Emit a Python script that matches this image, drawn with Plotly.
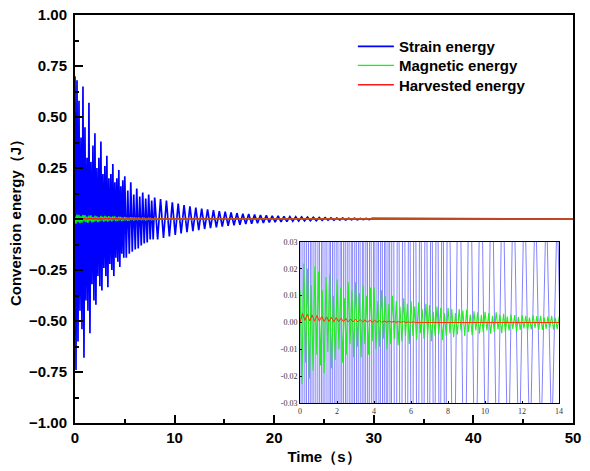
import numpy as np
import plotly.graph_objects as go

# ---------------- data ----------------
# Strain energy: dense early part (step 0.1 s), medium part (step 0.15 s), regular decay (step 0.295 s)
strain_dense_dt = 0.1
strain_dense = [0.70, -0.74, 0.68, -0.60, 0.58, -0.45, 0.40, -0.54, 0.65, -0.68,
                0.45, -0.40, 0.30, -0.45, 0.57, -0.56, 0.28, -0.32, 0.36, -0.40,
                0.42, -0.42, 0.25, -0.28, 0.30, -0.33, 0.38, -0.35, 0.22, -0.24,
                0.26, -0.28, 0.31, -0.335, 0.20, -0.22, 0.22, -0.25, 0.27, -0.28,
                0.18, -0.19, 0.20, -0.21, 0.24, -0.235, 0.16, -0.17, 0.19, -0.19]
strain_mid_t0 = 5.0
strain_mid_dt = 0.15
strain_mid = [0.21, -0.19, 0.14, -0.17, 0.18, -0.16, 0.12, -0.15, 0.15, -0.145,
              0.11, -0.13, 0.13, -0.12, 0.10, -0.115, 0.12, -0.10, 0.09, -0.10]
strain_tail_t0 = 8.0
strain_tail_dt = 0.295
strain_tail = [0.105, -0.100, 0.098, -0.093, 0.090, -0.086, 0.082, -0.078, 0.075, -0.071,
               0.068, -0.065, 0.062, -0.059, 0.056, -0.054, 0.051, -0.049, 0.047, -0.045,
               0.043, -0.041, 0.039, -0.037, 0.036, -0.034, 0.032, -0.031, 0.029, -0.028,
               0.026, -0.025, 0.024, -0.023, 0.022, -0.021, 0.020, -0.019, 0.018, -0.017,
               0.016, -0.015, 0.015, -0.014, 0.013, -0.013, 0.012, -0.011, 0.011, -0.010,
               0.010, -0.009, 0.009, -0.008, 0.008, -0.008, 0.007, -0.007, 0.007, -0.006,
               0.006, -0.006, 0.005, -0.005, 0.005, -0.005, 0.004, -0.004, 0.004, -0.004,
               0.003, -0.003, 0.003, -0.003, 0.003]
strain_end_t = [50.0]
strain_end_v = [0.0]

# Magnetic energy (sample step 0.1 s, 0-14 s)
magnetic_dt = 0.1
magnetic = [0.012, -0.023, 0.022, -0.015, 0.020, -0.021, 0.014, -0.018, 0.021, -0.012,
            0.019, -0.016, 0.012, -0.019, 0.017, -0.011, 0.018, -0.017, 0.010, -0.014,
            0.016, -0.010, 0.013, -0.015, 0.009, -0.012, 0.015, -0.008, 0.012, -0.013,
            0.015, -0.009, 0.011, -0.013, 0.014, -0.008, 0.010, -0.012, 0.013, -0.007,
            0.013, -0.010, 0.008, -0.009, 0.012, -0.006, 0.010, -0.010, 0.007, -0.008,
            0.010, -0.006, 0.008, -0.0085, 0.006, -0.007, 0.009, -0.005, 0.007, -0.008,
            0.008, -0.005, 0.006, -0.0065, 0.0075, -0.004, 0.005, -0.006, 0.007, -0.0045,
            0.0065, -0.007, 0.004, -0.005, 0.006, -0.0045, 0.0055, -0.0065, 0.0035, -0.005,
            0.0055, -0.004, 0.005, -0.0055, 0.0035, -0.0045, 0.005, -0.003, 0.0045, -0.005,
            0.0047, -0.0035, 0.003, -0.0047, 0.0042, -0.003, 0.0038, -0.0042, 0.0028, -0.0036,
            0.004, -0.003, 0.0035, -0.0042, 0.0025, -0.0035, 0.0038, -0.0026, 0.003, -0.004,
            0.0032, -0.0036, 0.0022, -0.003, 0.003, -0.0024, 0.0028, -0.0034, 0.002, -0.0028,
            0.0028, -0.0022, 0.0025, -0.003, 0.0018, -0.0026, 0.0027, -0.002, 0.0024, -0.0028,
            0.0025, -0.0028, 0.0018, -0.0024, 0.0023, -0.0019, 0.0025, -0.0027, 0.0017, -0.0025,
            0.002]
magnetic_end_t = [50.0]
magnetic_end_v = [0.0]

# Harvested energy (sample step 0.13 s)
harvest_dt = 0.13
harvested = [0.0, 0.0034, 0.0008, 0.0031, 0.0006, 0.0028, 0.0005, 0.0026, 0.0005, 0.0023,
             0.0004, 0.0021, 0.0004, 0.0019, 0.0003, 0.0018, 0.0003, 0.0016, 0.0003, 0.0015,
             0.0002, 0.0013, 0.0002, 0.0012, 0.0002, 0.0011, 0.0002, 0.0010, 0.0001, 0.0009,
             0.0001, 0.0008, 0.0001, 0.0007, 0.0001, 0.0006, 0.0001, 0.0005, 0.0001, 0.0004,
             0.0001, 0.0003, 0.0001, 0.0003, 0.0, 0.0002, 0.0, 0.0002, 0.0, 0.0001, 0.0]
harvest_end_t = [50.0]
harvest_end_v = [0.0]

main_xticks = [0, 10, 20, 30, 40, 50]
main_yticks = [-1.0, -0.75, -0.5, -0.25, 0.0, 0.25, 0.5, 0.75, 1.0]
inset_xticks = [0, 2, 4, 6, 8, 10, 12, 14]
inset_yticks = [-0.03, -0.02, -0.01, 0.0, 0.01, 0.02, 0.03]
inset_yticktext = ["-0.03", "-0.02", "-0.01", "0.00", "0.01", "0.02", "0.03"]

# ---------------- build series ----------------
t_strain = np.concatenate([np.arange(len(strain_dense)) * strain_dense_dt,
                           strain_mid_t0 + np.arange(len(strain_mid)) * strain_mid_dt,
                           strain_tail_t0 + np.arange(len(strain_tail)) * strain_tail_dt,
                           strain_end_t])
v_strain = np.array(strain_dense + strain_mid + strain_tail + strain_end_v)
t_mag = np.concatenate([np.arange(len(magnetic)) * magnetic_dt, magnetic_end_t])
v_mag = np.array(magnetic + magnetic_end_v)
t_har = np.concatenate([np.arange(len(harvested)) * harvest_dt, harvest_end_t])
v_har = np.array(harvested + harvest_end_v)

BLUE = "#0000FF"
GREEN = "#00FF00"
RED = "#FF1A1A"

fig = go.Figure()
fig.add_trace(go.Scatter(x=t_strain, y=v_strain, mode="lines", name="Strain energy",
                         legend="legend",
                         line=dict(color=BLUE, width=1.7)))
fig.add_trace(go.Scatter(x=t_mag, y=v_mag, mode="lines", name="Magnetic energy",
                         legend="legend2",
                         line=dict(color=GREEN, width=1.3)))
fig.add_trace(go.Scatter(x=t_har, y=v_har, mode="lines", name="Harvested energy",
                         legend="legend3",
                         line=dict(color=RED, width=1.5)))
# inset
fig.add_trace(go.Scatter(x=t_strain, y=v_strain, mode="lines", showlegend=False,
                         line=dict(color="rgba(0,0,255,0.55)", width=0.9),
                         xaxis="x2", yaxis="y2"))
fig.add_trace(go.Scatter(x=t_mag, y=v_mag, mode="lines", showlegend=False,
                         line=dict(color="#22EE22", width=1.1),
                         xaxis="x2", yaxis="y2"))
fig.add_trace(go.Scatter(x=t_har, y=v_har, mode="lines", showlegend=False,
                         line=dict(color="#FF3300", width=1),
                         xaxis="x2", yaxis="y2"))

bold = dict(family="Liberation Sans, Arial, sans-serif", size=15, color="black", weight="bold")
small = dict(family="Liberation Serif, DejaVu Serif, serif", size=8, color="#333333")


def leg(y):
    return dict(x=0.558, y=y, xanchor="left", yanchor="middle", font=bold,
                bgcolor="rgba(0,0,0,0)", borderwidth=0, itemwidth=36)


fig.update_layout(
    width=590, height=471,
    margin=dict(l=75, r=17, t=15, b=48),
    paper_bgcolor="white", plot_bgcolor="white",
    showlegend=True,
    legend=leg(0.9223),
    legend2=leg(0.8757),
    legend3=leg(0.8284),
    xaxis=dict(domain=[0, 1], range=[0, 50], tickvals=main_xticks, automargin=False,
               ticklabeloverflow="allow",
               ticks="inside", ticklen=8, tickwidth=2, tickcolor="black",
               minor=dict(dtick=5, tick0=0, ticks="inside", ticklen=4, tickwidth=2, tickcolor="black"),
               showline=True, linewidth=2, linecolor="black", mirror=True,
               showgrid=False, zeroline=False, tickfont=bold,
               title=dict(text="Time（s）", font=bold, standoff=6)),
    yaxis=dict(domain=[0, 1], range=[-1, 1], tickvals=main_yticks, tickformat=".2f",
               automargin=False, ticklabelstandoff=3, ticklabeloverflow="allow",
               ticks="inside", ticklen=8, tickwidth=2, tickcolor="black",
               minor=dict(dtick=0.125, tick0=0, ticks="inside", ticklen=4, tickwidth=2, tickcolor="black"),
               showline=True, linewidth=2, linecolor="black", mirror=True,
               showgrid=False, zeroline=False, tickfont=bold,
               title=dict(text="Conversion energy（J）", font=bold, standoff=4)),
    xaxis2=dict(domain=[0.452, 0.972], anchor="y2", range=[0, 14], tickvals=inset_xticks,
                automargin=False,
                ticks="inside", ticklen=2, tickwidth=1, tickcolor="black",
                showline=True, linewidth=1, linecolor="black", mirror=True,
                showgrid=False, zeroline=False, tickfont=small),
    yaxis2=dict(domain=[0.049, 0.4436], anchor="x2", range=[-0.03, 0.03],
                tickvals=inset_yticks, ticktext=inset_yticktext, automargin=False,
                ticks="inside", ticklen=2, tickwidth=1, tickcolor="black",
                showline=True, linewidth=1, linecolor="black", mirror=True,
                showgrid=False, zeroline=False, tickfont=small),
)

# remove the default page margin so the 590x471 figure fills the window exactly
fig.write_html("out.html", config={"displayModeBar": False},
               post_script="document.body.style.margin='0px';")
